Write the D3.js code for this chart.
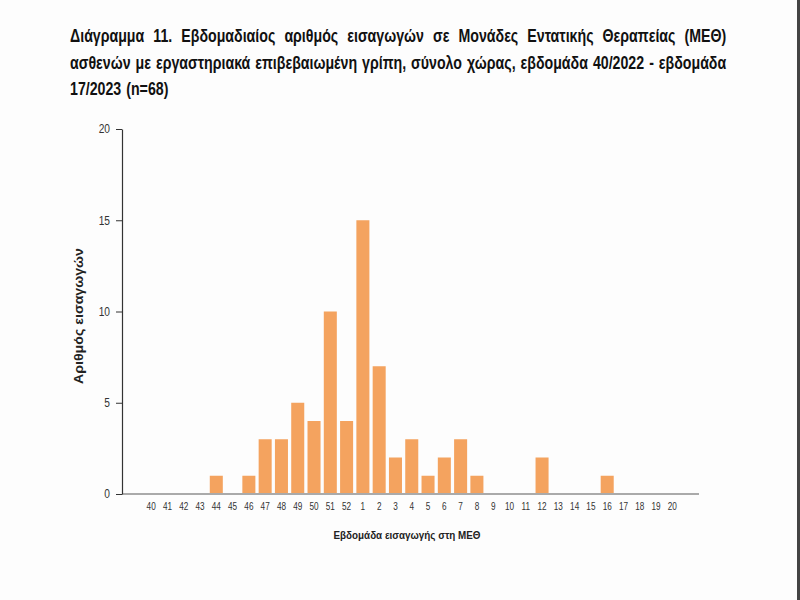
<!DOCTYPE html>
<html>
<head>
<meta charset="utf-8">
<script src="https://cdn.jsdelivr.net/npm/d3@7"></script>
<style>
html,body{margin:0;padding:0;background:#fff;}
svg{display:block;}
</style>
</head>
<body>
<svg id="chart" width="800" height="600"></svg>
<script>
const weeks = ["40","41","42","43","44","45","46","47","48","49","50","51","52","1","2","3","4","5","6","7","8","9","10","11","12","13","14","15","16","17","18","19","20"];
const admissions = [0,0,0,0,1,0,1,3,3,5,4,10,4,15,7,2,3,1,2,3,1,0,0,0,2,0,0,0,1,0,0,0,0];
const yTicks = [0,5,10,15,20];
const titleLines = [
  "Διάγραμμα 11. Εβδομαδιαίος αριθμός εισαγωγών σε Μονάδες Εντατικής Θεραπείας (ΜΕΘ)",
  "ασθενών με εργαστηριακά επιβεβαιωμένη γρίπη, σύνολο χώρας, εβδομάδα 40/2022 - εβδομάδα",
  "17/2023 (n=68)"
];
const yTitle = "Αριθμός εισαγωγών";
const xTitle = "Εβδομάδα εισαγωγής στη ΜΕΘ";

const svg = d3.select("#chart");
svg.append("rect").attr("x",0).attr("y",0).attr("width",800).attr("height",600).attr("fill","#fdfdfd");
svg.append("rect").attr("x",797).attr("y",0).attr("width",3).attr("height",600).attr("fill","#444");

// Title: one text per line, horizontally condensed, justified via word-spacing
const titleFont = "'Liberation Sans',Arial,sans-serif";
const fs = 18;
const tLeft = 70, tRight = 727;
const baselines = [42, 69, 95];
const natGap = 5;
const measure = svg.append("text").attr("font-family", titleFont).attr("font-weight","bold").attr("font-size",fs).attr("y",-100);
function textW(s) { measure.text(s); return measure.node().getComputedTextLength(); }
const spaceW = textW("a a") - textW("aa");
const l2words = titleLines[1].split(" ");
const squeeze = (tRight - tLeft - (l2words.length - 1) * natGap) / d3.sum(l2words, textW);

titleLines.forEach((line, i) => {
  const nGaps = line.split(" ").length - 1;
  const nat = textW(line);
  const target = (i < 2) ? (tRight - tLeft) / squeeze : nat + nGaps * (natGap / squeeze - spaceW);
  const ws = (target - nat) / nGaps;
  svg.append("text")
    .attr("transform", `translate(${tLeft},${baselines[i]}) scale(${squeeze},1)`)
    .attr("font-family", titleFont)
    .attr("font-weight", "bold")
    .attr("font-size", fs)
    .attr("fill", "#111")
    .style("word-spacing", ws + "px")
    .text(line);
});
measure.remove();

// Scales
const x = d3.scaleBand().domain(weeks).range([143, 680.5]).paddingInner(0.2).paddingOuter(0.1);
const y = d3.scaleLinear().domain([0, 20]).range([494, 129]);

// Bars
svg.append("g").selectAll("rect").data(weeks.map((w,i)=>({w, v: admissions[i]})))
  .join("rect")
  .attr("x", d => x(d.w))
  .attr("width", x.bandwidth())
  .attr("y", d => y(d.v))
  .attr("height", d => y(0) - y(d.v))
  .attr("fill", "#f4a35f");

// Baseline
svg.append("line").attr("x1", 122).attr("x2", 699).attr("y1", y(0)).attr("y2", y(0))
  .attr("stroke", "#aaa").attr("stroke-width", 2);

// Y axis
const yAxis = d3.axisLeft(y).tickValues(yTicks).tickSize(6).tickSizeOuter(0).tickPadding(6);
const yg = svg.append("g").attr("transform", "translate(122,0)").call(yAxis);
yg.select(".domain").attr("stroke", "#333").attr("stroke-width", 1.2);
yg.selectAll(".tick line").attr("stroke", "#333");
yg.selectAll(".tick text").attr("font-family", "'Liberation Sans',Arial,sans-serif")
  .attr("font-size", 12).attr("fill", "#333")
  .each(function(){ const w = this.getComputedTextLength(); d3.select(this).attr("textLength", w*0.85).attr("lengthAdjust","spacingAndGlyphs"); });

// X axis labels
const xAxis = d3.axisBottom(x).tickSize(0).tickPadding(9);
const xg = svg.append("g").attr("transform", `translate(0,${y(0)})`).call(xAxis);
xg.select(".domain").remove();
xg.selectAll(".tick text").attr("font-family", "'Liberation Sans',Arial,sans-serif")
  .attr("font-size", 10.5).attr("fill", "#333")
  .each(function(){ const w = this.getComputedTextLength(); d3.select(this).attr("textLength", w*0.78).attr("lengthAdjust","spacingAndGlyphs"); });

// Axis titles
svg.append("text")
  .attr("transform", "translate(83,316) rotate(-90)")
  .attr("text-anchor", "middle")
  .attr("font-family", "'Liberation Sans',Arial,sans-serif")
  .attr("font-weight", "bold").attr("font-size", 12).attr("fill", "#222")
  .attr("textLength", 136).attr("lengthAdjust", "spacingAndGlyphs")
  .text(yTitle);
svg.append("text")
  .attr("x", 407).attr("y", 539)
  .attr("text-anchor", "middle")
  .attr("font-family", "'Liberation Sans',Arial,sans-serif")
  .attr("font-weight", "bold").attr("font-size", 11.5).attr("fill", "#222")
  .attr("textLength", 147).attr("lengthAdjust", "spacingAndGlyphs")
  .text(xTitle);
</script>
</body>
</html>
